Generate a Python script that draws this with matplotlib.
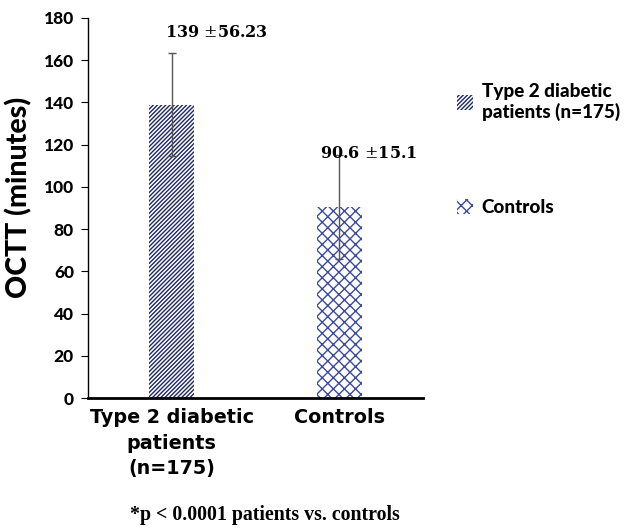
import matplotlib
matplotlib.use("Agg")
import matplotlib.pyplot as plt
from matplotlib.patches import Patch

categories = ["Type 2 diabetic\npatients\n(n=175)", "Controls"]
legend_labels = ["Type 2 diabetic\npatients (n=175)", "Controls"]
means = [139, 90.6]
err_drawn = [24.3, 24.5]
value_labels = [r"139 $\pm$56.23", r"90.6 $\pm$15.1"]
yticks = [0, 20, 40, 60, 80, 100, 120, 140, 160, 180]

navy = "#1c2766"
navy2 = "#3b4a9c"

plt.rcParams["hatch.linewidth"] = 1.0
plt.rcParams["mathtext.fontset"] = "dejavuserif"

fig = plt.figure(figsize=(6.27, 5.28), dpi=100)
ax = fig.add_axes([0.140, 0.246, 0.535, 0.720])

x = [0, 1]
hatches = ["////////", "xxx"]
colors = [navy, navy2]
for i in range(2):
    ax.bar(x[i], means[i], width=0.27, color="white", edgecolor=colors[i],
           hatch=hatches[i], linewidth=0)
    ax.errorbar(x[i], means[i], yerr=err_drawn[i], color="#555555",
                elinewidth=1, capsize=3, capthick=1, fmt="none")

ax.text(-0.04, 171, value_labels[0], fontsize=11.5, fontweight="bold",
        family="DejaVu Serif", ha="left", va="baseline")
ax.text(0.885, 113.7, value_labels[1], fontsize=11.5, fontweight="bold",
        family="DejaVu Serif", ha="left", va="baseline")

ax.set_xlim(-0.5, 1.5)
ax.set_ylim(0, 180)
ax.set_yticks(yticks)
ax.set_yticklabels([str(t) for t in yticks], fontsize=12.5, fontweight="black",
                   family="Lato")
ax.set_xticks(x)
ax.set_xticklabels(categories, fontsize=13.8, fontweight="bold",
                   family="DejaVu Sans", linespacing=1.45)
ax.tick_params(axis="x", length=0, pad=7)
ax.tick_params(axis="y", length=5, width=0.8, direction="out", pad=5)
ax.spines["top"].set_visible(False)
ax.spines["right"].set_visible(False)
ax.spines["bottom"].set_linewidth(2)
ax.spines["left"].set_linewidth(1)
ax.set_ylabel("OCTT (minutes)", fontsize=20.5, fontweight="black",
              family="Lato")
ax.yaxis.set_label_coords(-0.166, 0.528)

handles = [Patch(facecolor="white", edgecolor=colors[i], hatch=hatches[i],
                 linewidth=0) for i in range(2)]
fig.legend(handles, legend_labels, loc="upper left",
           bbox_to_anchor=(0.702, 0.875), frameon=False,
           prop={"family": "Lato", "weight": "black", "size": 13.6},
           handlelength=0.85, handleheight=0.85, handletextpad=0.45,
           labelspacing=4.1)

fig.text(0.423, 0.0246, "*p < 0.0001 patients vs. controls", ha="center",
         va="center", fontsize=14.3, fontweight="bold",
         family="Liberation Serif")

fig.savefig("out.png", dpi=100)
